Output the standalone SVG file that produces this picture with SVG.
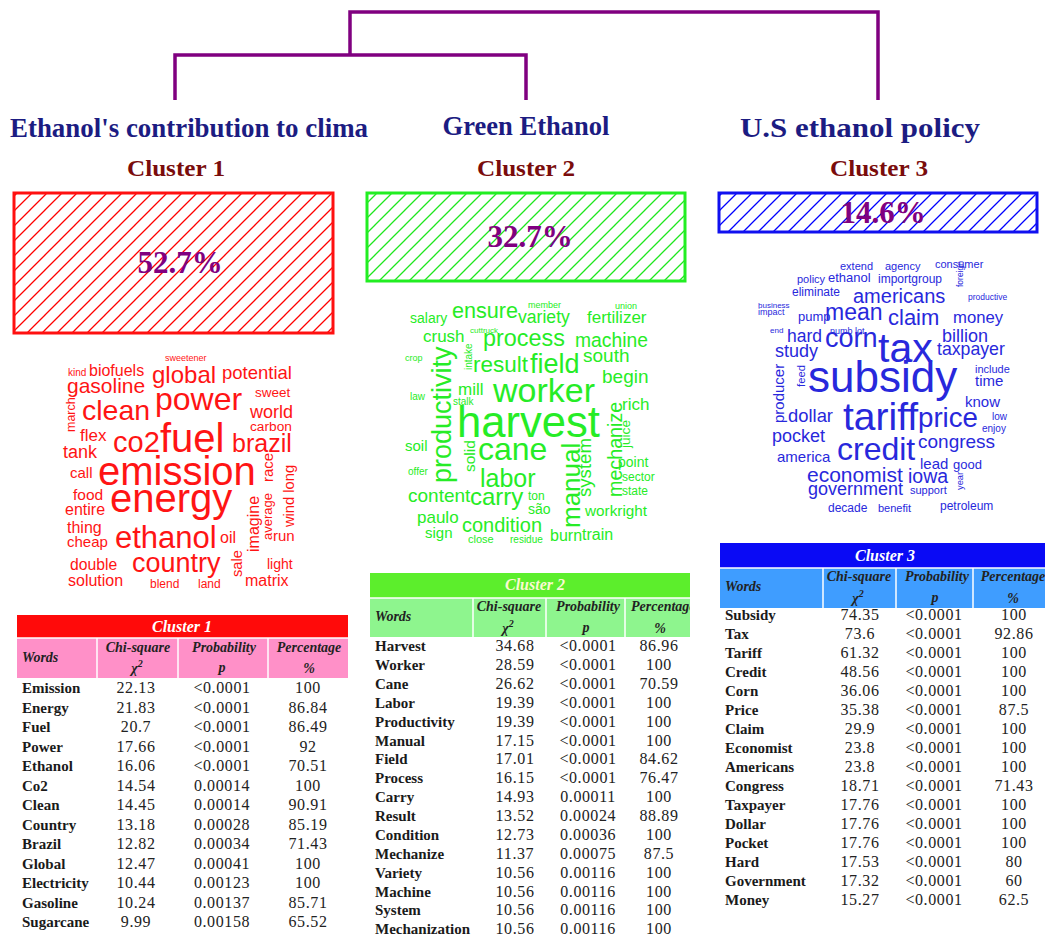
<svg xmlns="http://www.w3.org/2000/svg" width="1045" height="939" viewBox="0 0 1045 939">
<style>
.ttl{font-family:"Liberation Serif","Times New Roman",serif;font-weight:bold;fill:#1c1c82;font-size:28px;text-anchor:middle}
.cl{font-family:"Liberation Serif","Times New Roman",serif;font-weight:bold;fill:#7a0c0c;font-size:24px;text-anchor:middle}
.pct{font-family:"Liberation Serif","Times New Roman",serif;font-weight:bold;fill:#800080;font-size:31px;text-anchor:middle}
.w{font-family:"Liberation Sans",Arial,sans-serif}
.c1 text{fill:#ff1414}
.c2 text{fill:#26ec26}
.c3 text{fill:#2828dc}
.th{font-family:"Liberation Serif","Times New Roman",serif;font-weight:bold;font-style:italic;font-size:16px;text-anchor:middle}
.sh{font-family:"Liberation Serif","Times New Roman",serif;font-weight:bold;font-style:italic;font-size:14px;fill:#222;text-anchor:middle}
.wd{font-family:"Liberation Serif","Times New Roman",serif;font-weight:bold;font-size:15px;fill:#1a1a1a}
.v{font-family:"Liberation Serif","Times New Roman",serif;font-size:16px;fill:#222;text-anchor:middle;letter-spacing:0.6px}
.sep{stroke:#ffffff;stroke-width:1.5}
.hatch{fill:none;stroke-width:1.3}
</style>
<defs>
<pattern id="hR" patternUnits="userSpaceOnUse" width="15" height="15"><path class="hatch" d="M-1,16 L16,-1 M-4,4 L4,-4 M11,19 L19,11" stroke="#ff0000"/></pattern>
<pattern id="hG" patternUnits="userSpaceOnUse" width="15" height="15"><path class="hatch" d="M-1,16 L16,-1 M-4,4 L4,-4 M11,19 L19,11" stroke="#1ee61e"/></pattern>
<pattern id="hB" patternUnits="userSpaceOnUse" width="15" height="15"><path class="hatch" d="M-1,16 L16,-1 M-4,4 L4,-4 M11,19 L19,11" stroke="#0000ff"/></pattern>
<clipPath id="clipT2"><rect x="360" y="560" width="330" height="379"/></clipPath>
</defs>
<rect width="1045" height="939" fill="#ffffff"/>

<g id="connectors" fill="none" stroke="#800080" stroke-width="3.5">
<path d="M350,55 V12 H878 V100"/>
<path d="M175,100 V55 H526 V100"/>
</g>

<g id="cluster1-title">
<text class="ttl" x="189" y="137" textLength="358" lengthAdjust="spacingAndGlyphs">Ethanol's contribution to clima</text>
<text class="cl" x="176" y="176" textLength="98" lengthAdjust="spacingAndGlyphs">Cluster 1</text>
</g>
<g id="cluster2-title">
<text class="ttl" x="526" y="135" textLength="167" lengthAdjust="spacingAndGlyphs">Green Ethanol</text>
<text class="cl" x="526" y="176" textLength="98" lengthAdjust="spacingAndGlyphs">Cluster 2</text>
</g>
<g id="cluster3-title">
<text class="ttl" x="860" y="137" textLength="240" lengthAdjust="spacingAndGlyphs">U.S ethanol policy</text>
<text class="cl" x="879" y="176" textLength="98" lengthAdjust="spacingAndGlyphs">Cluster 3</text>
</g>

<g id="box1">
<rect x="14" y="193" width="319" height="140" fill="url(#hR)" stroke="#ff1010" stroke-width="3"/>
<text class="pct" x="180" y="273">52.7%</text>
</g>
<g id="box2">
<rect x="367" y="193" width="318" height="88" fill="url(#hG)" stroke="#22ee22" stroke-width="3"/>
<text class="pct" x="530" y="247">32.7%</text>
</g>
<g id="box3">
<rect x="719" y="193" width="318" height="39" fill="url(#hB)" stroke="#1010f0" stroke-width="3"/>
<text class="pct" x="883" y="223">14.6%</text>
</g>

<g id="cloud1" class="w c1">
<text x="165" y="361" font-size="9">sweetener</text>
<text x="68" y="376" font-size="10">kind</text>
<text x="89" y="376" font-size="16">biofuels</text>
<text x="152" y="383" font-size="24">global</text>
<text x="222" y="379" font-size="18.5">potential</text>
<text x="67" y="393" font-size="21">gasoline</text>
<text x="155" y="410" font-size="32">power</text>
<text x="255" y="397" font-size="13.5">sweet</text>
<text x="82" y="420" font-size="28.5">clean</text>
<text x="250" y="418" font-size="18">world</text>
<text x="250" y="431" font-size="13.7">carbon</text>
<text x="80" y="441" font-size="17">flex</text>
<text x="113" y="452" font-size="29">co2</text>
<text x="160" y="452" font-size="40">fuel</text>
<text x="232" y="452" font-size="25">brazil</text>
<text x="63" y="458" font-size="18">tank</text>
<text x="70" y="478" font-size="15">call</text>
<text x="98" y="485" font-size="40">emission</text>
<text x="73" y="500" font-size="15.5">food</text>
<text x="110" y="512" font-size="40">energy</text>
<text x="65" y="515" font-size="16">entire</text>
<text x="67" y="533" font-size="16">thing</text>
<text x="115" y="548" font-size="31">ethanol</text>
<text x="220" y="543" font-size="16">oil</text>
<text x="273" y="541" font-size="15">run</text>
<text x="67" y="547" font-size="15">cheap</text>
<text x="132" y="572" font-size="27">country</text>
<text x="70" y="570" font-size="15.7">double</text>
<text x="267" y="569" font-size="14">light</text>
<text x="68" y="586" font-size="16">solution</text>
<text x="150" y="588" font-size="12">blend</text>
<text x="198" y="588" font-size="12">land</text>
<text x="245" y="586" font-size="16">matrix</text>
<text transform="translate(75,432) rotate(-90)" font-size="12.5">march</text>
<text transform="translate(273,482) rotate(-90)" font-size="15">race</text>
<text transform="translate(294,527) rotate(-90)" font-size="14.7">wind long</text>
<text transform="translate(258.5,552) rotate(-90)" font-size="16">imagine</text>
<text transform="translate(272,540) rotate(-90)" font-size="13">average</text>
<text transform="translate(242,577) rotate(-90)" font-size="14.7">sale</text>
</g>

<g id="cloud2" class="w c2">
<text x="528" y="308" font-size="9">member</text>
<text x="615" y="309" font-size="9">union</text>
<text x="410" y="323" font-size="14">salary</text>
<text x="452" y="318" font-size="21.6">ensure</text>
<text x="518" y="323" font-size="17.6">variety</text>
<text x="587" y="323" font-size="17">fertilizer</text>
<text x="470" y="333" font-size="8">cuttruck</text>
<text x="423" y="342" font-size="17">crush</text>
<text x="483" y="346" font-size="23.4">process</text>
<text x="575" y="347" font-size="19.3">machine</text>
<text x="405" y="361" font-size="9">crop</text>
<text x="473" y="372" font-size="22.5">result</text>
<text x="530" y="373" font-size="27">field</text>
<text x="583" y="362" font-size="19">south</text>
<text x="602" y="383" font-size="19">begin</text>
<text x="458" y="395" font-size="17">mill</text>
<text x="493" y="402" font-size="34">worker</text>
<text x="410" y="400" font-size="10">law</text>
<text x="453" y="405" font-size="10">stalk</text>
<text x="622" y="410" font-size="17">rich</text>
<text x="457" y="437" font-size="43.6">harvest</text>
<text x="405" y="451" font-size="15">soil</text>
<text x="478" y="460" font-size="32">cane</text>
<text x="618" y="467" font-size="14">point</text>
<text x="408" y="475" font-size="10">offer</text>
<text x="480" y="487" font-size="25">labor</text>
<text x="622" y="481" font-size="12">sector</text>
<text x="408" y="502" font-size="19">content</text>
<text x="470" y="505" font-size="24">carry</text>
<text x="528" y="500" font-size="12">ton</text>
<text x="622" y="495" font-size="12">state</text>
<text x="528" y="514" font-size="14">são</text>
<text x="585" y="516" font-size="15.3">workright</text>
<text x="417" y="523" font-size="17">paulo</text>
<text x="462" y="532" font-size="20">condition</text>
<text x="425" y="538" font-size="15">sign</text>
<text x="468" y="543" font-size="11">close</text>
<text x="510" y="543" font-size="10">residue</text>
<text x="550" y="541" font-size="16">burn</text>
<text x="582" y="540" font-size="16">train</text>
<text transform="translate(472,370) rotate(-90)" font-size="10">intake</text>
<text transform="translate(451,483) rotate(-90)" font-size="27">productivity</text>
<text transform="translate(622,497) rotate(-90)" font-size="19.7">mechanize</text>
<text transform="translate(630,448) rotate(-90)" font-size="13.6">juice</text>
<text transform="translate(475,472) rotate(-90)" font-size="15.5">solid</text>
<text transform="translate(591,497) rotate(-90)" font-size="18.6">system</text>
<text transform="translate(580,528) rotate(-90)" font-size="26">manual</text>
</g>

<g id="cloud3" class="w c3">
<text x="840" y="270" font-size="11">extend</text>
<text x="885" y="270" font-size="11">agency</text>
<text x="935" y="268" font-size="11">consumer</text>
<text x="797" y="283" font-size="11">policy</text>
<text x="828" y="282" font-size="13">ethanol</text>
<text x="878" y="283" font-size="12">importgroup</text>
<text x="792" y="296" font-size="12">eliminate</text>
<text x="853" y="303" font-size="20">americans</text>
<text x="968" y="300" font-size="8.5">productive</text>
<text x="758" y="308" font-size="8">business</text>
<text x="758" y="315" font-size="9">impact</text>
<text x="798" y="321" font-size="13">pump</text>
<text x="825" y="320" font-size="23">mean</text>
<text x="888" y="325" font-size="22">claim</text>
<text x="953" y="323" font-size="16.7">money</text>
<text x="770" y="333" font-size="8">end</text>
<text x="787" y="342" font-size="17.5">hard</text>
<text x="830" y="334" font-size="9">numb lot</text>
<text x="825" y="347" font-size="27">corn</text>
<text x="878" y="362" font-size="41">tax</text>
<text x="942" y="342" font-size="18">billion</text>
<text x="775" y="357" font-size="18">study</text>
<text x="937" y="355" font-size="17.7">taxpayer</text>
<text x="975" y="373" font-size="11">include</text>
<text x="808" y="392" font-size="44">subsidy</text>
<text x="975" y="386" font-size="15">time</text>
<text x="965" y="407" font-size="15">know</text>
<text x="992" y="420" font-size="10">low</text>
<text x="788" y="422" font-size="18.4">dollar</text>
<text x="843" y="430" font-size="39">tariff</text>
<text x="918" y="427" font-size="27.7">price</text>
<text x="982" y="432" font-size="10">enjoy</text>
<text x="772" y="442" font-size="18">pocket</text>
<text x="837" y="460" font-size="32">credit</text>
<text x="918" y="448" font-size="19">congress</text>
<text x="777" y="462" font-size="15">america</text>
<text x="920" y="469" font-size="15">lead</text>
<text x="953" y="469" font-size="13">good</text>
<text x="807" y="482" font-size="21">economist</text>
<text x="908" y="483" font-size="19.5">iowa</text>
<text x="808" y="495" font-size="18">government</text>
<text x="910" y="494" font-size="11">support</text>
<text x="828" y="512" font-size="12">decade</text>
<text x="878" y="512" font-size="11">benefit</text>
<text x="940" y="510" font-size="12">petroleum</text>
<text transform="translate(963,287) rotate(-90)" font-size="8.5">foreign</text>
<text transform="translate(784,423) rotate(-90)" font-size="15">producer</text>
<text transform="translate(805,387) rotate(-90)" font-size="11.3">feed</text>
<text transform="translate(963,490) rotate(-90)" font-size="9.3">year</text>
</g>

<g id="table1">
<rect x="17" y="615" width="331" height="23" fill="#ff0a0a"/>
<rect x="17" y="638" width="331" height="40" fill="#ff90c8"/>
<line class="sep" x1="17" y1="638" x2="348" y2="638"/>
<line class="sep" x1="97" y1="638" x2="97" y2="678"/>
<line class="sep" x1="178" y1="638" x2="178" y2="678"/>
<line class="sep" x1="268" y1="638" x2="268" y2="678"/>
<text class="th" x="182" y="632" fill="#ffffff">Cluster 1</text>
<text class="sh" x="22" y="662" style="text-anchor:start">Words</text>
<text class="sh" x="138" y="652">Chi-square</text>
<text class="sh" x="137" y="673" font-size="17">χ<tspan dy="-6" font-size="10">2</tspan></text>
<text class="sh" x="224" y="652">Probability</text>
<text class="sh" x="222" y="672" font-size="17">p</text>
<text class="sh" x="309" y="652">Percentage</text>
<text class="sh" x="309" y="673">%</text>
<g class="wd">
<text x="22" y="693">Emission</text><text x="22" y="712.5">Energy</text><text x="22" y="732">Fuel</text><text x="22" y="751.5">Power</text><text x="22" y="771">Ethanol</text><text x="22" y="790.5">Co2</text><text x="22" y="810">Clean</text><text x="22" y="829.5">Country</text><text x="22" y="849">Brazil</text><text x="22" y="868.5">Global</text><text x="22" y="888">Electricity</text><text x="22" y="907.5">Gasoline</text><text x="22" y="927">Sugarcane</text>
</g>
<g class="v">
<text x="136" y="693">22.13</text><text x="136" y="712.5">21.83</text><text x="136" y="732">20.7</text><text x="136" y="751.5">17.66</text><text x="136" y="771">16.06</text><text x="136" y="790.5">14.54</text><text x="136" y="810">14.45</text><text x="136" y="829.5">13.18</text><text x="136" y="849">12.82</text><text x="136" y="868.5">12.47</text><text x="136" y="888">10.44</text><text x="136" y="907.5">10.24</text><text x="136" y="927">9.99</text>
<text x="222" y="693">&lt;0.0001</text><text x="222" y="712.5">&lt;0.0001</text><text x="222" y="732">&lt;0.0001</text><text x="222" y="751.5">&lt;0.0001</text><text x="222" y="771">&lt;0.0001</text><text x="222" y="790.5">0.00014</text><text x="222" y="810">0.00014</text><text x="222" y="829.5">0.00028</text><text x="222" y="849">0.00034</text><text x="222" y="868.5">0.00041</text><text x="222" y="888">0.00123</text><text x="222" y="907.5">0.00137</text><text x="222" y="927">0.00158</text>
<text x="308" y="693">100</text><text x="308" y="712.5">86.84</text><text x="308" y="732">86.49</text><text x="308" y="751.5">92</text><text x="308" y="771">70.51</text><text x="308" y="790.5">100</text><text x="308" y="810">90.91</text><text x="308" y="829.5">85.19</text><text x="308" y="849">71.43</text><text x="308" y="868.5">100</text><text x="308" y="888">100</text><text x="308" y="907.5">85.71</text><text x="308" y="927">65.52</text>
</g>
</g>

<g id="table2" clip-path="url(#clipT2)">
<rect x="370" y="573" width="330" height="25" fill="#5cee2c"/>
<rect x="370" y="598" width="330" height="39" fill="#8ef58e"/>
<line class="sep" x1="370" y1="598" x2="700" y2="598"/>
<line class="sep" x1="473" y1="598" x2="473" y2="637"/>
<line class="sep" x1="546" y1="598" x2="546" y2="637"/>
<line class="sep" x1="625" y1="598" x2="625" y2="637"/>
<text class="th" x="535" y="590" fill="#fafad0">Cluster 2</text>
<text class="sh" x="375" y="621" style="text-anchor:start">Words</text>
<text class="sh" x="509" y="611">Chi-square</text>
<text class="sh" x="508" y="633" font-size="17">χ<tspan dy="-6" font-size="10">2</tspan></text>
<text class="sh" x="588" y="611">Probability</text>
<text class="sh" x="586" y="632" font-size="17">p</text>
<text class="sh" x="631" y="611" style="text-anchor:start">Percentage</text>
<text class="sh" x="660" y="633">%</text>
<g class="wd">
<text x="375" y="651">Harvest</text><text x="375" y="670">Worker</text><text x="375" y="689">Cane</text><text x="375" y="707.5">Labor</text><text x="375" y="726.5">Productivity</text><text x="375" y="745.5">Manual</text><text x="375" y="764">Field</text><text x="375" y="783">Process</text><text x="375" y="802">Carry</text><text x="375" y="821">Result</text><text x="375" y="840">Condition</text><text x="375" y="858.5">Mechanize</text><text x="375" y="877.5">Variety</text><text x="375" y="896.5">Machine</text><text x="375" y="915">System</text><text x="375" y="934">Mechanization</text>
</g>
<g class="v">
<text x="515" y="651">34.68</text><text x="515" y="670">28.59</text><text x="515" y="689">26.62</text><text x="515" y="707.5">19.39</text><text x="515" y="726.5">19.39</text><text x="515" y="745.5">17.15</text><text x="515" y="764">17.01</text><text x="515" y="783">16.15</text><text x="515" y="802">14.93</text><text x="515" y="821">13.52</text><text x="515" y="840">12.73</text><text x="515" y="858.5">11.37</text><text x="515" y="877.5">10.56</text><text x="515" y="896.5">10.56</text><text x="515" y="915">10.56</text><text x="515" y="934">10.56</text>
<text x="588" y="651">&lt;0.0001</text><text x="588" y="670">&lt;0.0001</text><text x="588" y="689">&lt;0.0001</text><text x="588" y="707.5">&lt;0.0001</text><text x="588" y="726.5">&lt;0.0001</text><text x="588" y="745.5">&lt;0.0001</text><text x="588" y="764">&lt;0.0001</text><text x="588" y="783">&lt;0.0001</text><text x="588" y="802">0.00011</text><text x="588" y="821">0.00024</text><text x="588" y="840">0.00036</text><text x="588" y="858.5">0.00075</text><text x="588" y="877.5">0.00116</text><text x="588" y="896.5">0.00116</text><text x="588" y="915">0.00116</text><text x="588" y="934">0.00116</text>
<text x="659" y="651">86.96</text><text x="659" y="670">100</text><text x="659" y="689">70.59</text><text x="659" y="707.5">100</text><text x="659" y="726.5">100</text><text x="659" y="745.5">100</text><text x="659" y="764">84.62</text><text x="659" y="783">76.47</text><text x="659" y="802">100</text><text x="659" y="821">88.89</text><text x="659" y="840">100</text><text x="659" y="858.5">87.5</text><text x="659" y="877.5">100</text><text x="659" y="896.5">100</text><text x="659" y="915">100</text><text x="659" y="934">100</text>
</g>
</g>

<g id="table3">
<rect x="720" y="543" width="325" height="25" fill="#0a0af5"/>
<rect x="720" y="568" width="325" height="40" fill="#3f9dff"/>
<line class="sep" x1="720" y1="568" x2="1045" y2="568"/>
<line class="sep" x1="823" y1="568" x2="823" y2="608"/>
<line class="sep" x1="896" y1="568" x2="896" y2="608"/>
<line class="sep" x1="973" y1="568" x2="973" y2="608"/>
<text class="th" x="885" y="561" fill="#ffffff">Cluster 3</text>
<text class="sh" x="725" y="591" style="text-anchor:start">Words</text>
<text class="sh" x="859" y="581">Chi-square</text>
<text class="sh" x="858" y="603" font-size="17">χ<tspan dy="-6" font-size="10">2</tspan></text>
<text class="sh" x="937" y="581">Probability</text>
<text class="sh" x="935" y="602" font-size="17">p</text>
<text class="sh" x="1013" y="581">Percentage</text>
<text class="sh" x="1013" y="603">%</text>
<g class="wd">
<text x="725" y="620">Subsidy</text><text x="725" y="639">Tax</text><text x="725" y="658">Tariff</text><text x="725" y="677">Credit</text><text x="725" y="696">Corn</text><text x="725" y="715">Price</text><text x="725" y="734">Claim</text><text x="725" y="753">Economist</text><text x="725" y="772">Americans</text><text x="725" y="791">Congress</text><text x="725" y="810">Taxpayer</text><text x="725" y="829">Dollar</text><text x="725" y="848">Pocket</text><text x="725" y="867">Hard</text><text x="725" y="886">Government</text><text x="725" y="905">Money</text>
</g>
<g class="v">
<text x="860" y="620">74.35</text><text x="860" y="639">73.6</text><text x="860" y="658">61.32</text><text x="860" y="677">48.56</text><text x="860" y="696">36.06</text><text x="860" y="715">35.38</text><text x="860" y="734">29.9</text><text x="860" y="753">23.8</text><text x="860" y="772">23.8</text><text x="860" y="791">18.71</text><text x="860" y="810">17.76</text><text x="860" y="829">17.76</text><text x="860" y="848">17.76</text><text x="860" y="867">17.53</text><text x="860" y="886">17.32</text><text x="860" y="905">15.27</text>
<text x="934" y="620">&lt;0.0001</text><text x="934" y="639">&lt;0.0001</text><text x="934" y="658">&lt;0.0001</text><text x="934" y="677">&lt;0.0001</text><text x="934" y="696">&lt;0.0001</text><text x="934" y="715">&lt;0.0001</text><text x="934" y="734">&lt;0.0001</text><text x="934" y="753">&lt;0.0001</text><text x="934" y="772">&lt;0.0001</text><text x="934" y="791">&lt;0.0001</text><text x="934" y="810">&lt;0.0001</text><text x="934" y="829">&lt;0.0001</text><text x="934" y="848">&lt;0.0001</text><text x="934" y="867">&lt;0.0001</text><text x="934" y="886">&lt;0.0001</text><text x="934" y="905">&lt;0.0001</text>
<text x="1014" y="620">100</text><text x="1014" y="639">92.86</text><text x="1014" y="658">100</text><text x="1014" y="677">100</text><text x="1014" y="696">100</text><text x="1014" y="715">87.5</text><text x="1014" y="734">100</text><text x="1014" y="753">100</text><text x="1014" y="772">100</text><text x="1014" y="791">71.43</text><text x="1014" y="810">100</text><text x="1014" y="829">100</text><text x="1014" y="848">100</text><text x="1014" y="867">80</text><text x="1014" y="886">60</text><text x="1014" y="905">62.5</text>
</g>
</g>
</svg>
